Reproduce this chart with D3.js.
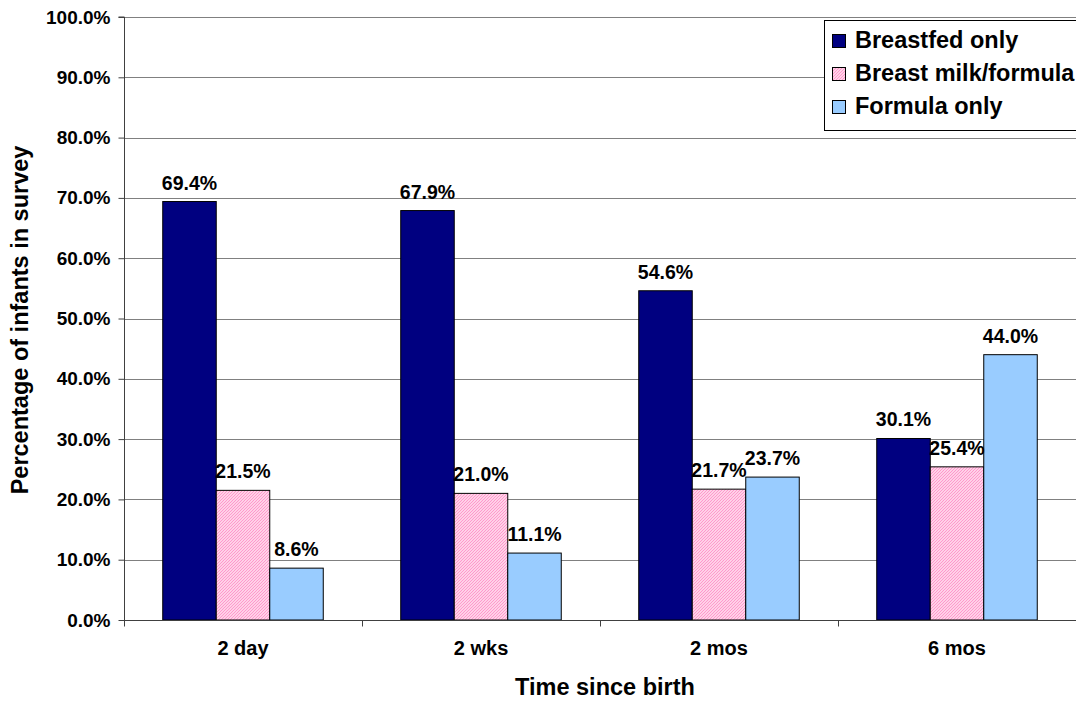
<!DOCTYPE html>
<html>
<head>
<meta charset="utf-8">
<script src="https://cdn.jsdelivr.net/npm/d3@7"></script>
<style>
  html, body { margin: 0; padding: 0; background: #fff; }
  svg { display: block; font-family: "Liberation Sans", Arial, sans-serif; font-weight: bold; }
</style>
</head>
<body>
<svg id="chart" width="1076" height="702"></svg>
<script>
// Infant feeding status by time since birth
const categories = ["2 day", "2 wks", "2 mos", "6 mos"];
const seriesNames = ["Breastfed only", "Breast milk/formula", "Formula only"];
const breastfedOnly = [69.4, 67.9, 54.6, 30.1];
const mixedFeeding = [21.5, 21.0, 21.7, 25.4];
const formulaOnly = [8.6, 11.1, 23.7, 44.0];
const yTicks = [0, 10, 20, 30, 40, 50, 60, 70, 80, 90, 100];

const seriesValues = [breastfedOnly, mixedFeeding, formulaOnly];
const fills = ["#000080", "url(#hatch)", "#99CCFF"];

const svg = d3.select("#chart");
const margin = { left: 124, right: 0, top: 17, bottom: 82 };
const W = 1076, H = 702;

// fine hatched fill for the mixed-feeding series
const defs = svg.append("defs");
const pat = defs.append("pattern")
  .attr("id", "hatch").attr("patternUnits", "userSpaceOnUse")
  .attr("width", 3).attr("height", 3);
pat.append("rect").attr("width", 3).attr("height", 3).attr("fill", "#fff");
pat.append("path").attr("d", "M-1,1 l2,-2 M0,3 l3,-3 M2,4 l2,-2")
  .attr("stroke", "#FF99CC").attr("stroke-width", 1.3);

const x0 = d3.scaleBand().domain(categories)
  .range([margin.left, W - margin.right]).paddingInner(0).paddingOuter(0);
const x1 = d3.scaleBand().domain(seriesNames)
  .range([0, x0.bandwidth()]).paddingInner(0).paddingOuter(0.724);
const y = d3.scaleLinear().domain([0, 100]).range([H - margin.bottom, margin.top]);

// gridlines
svg.append("g").selectAll("line").data(yTicks.filter(d => d > 0)).join("line")
  .attr("x1", margin.left).attr("x2", W)
  .attr("y1", d => Math.round(y(d)) + 0.5).attr("y2", d => Math.round(y(d)) + 0.5)
  .attr("stroke", "#808080").attr("stroke-width", 1);

// bars
const groups = svg.append("g").selectAll("g").data(categories).join("g")
  .attr("transform", c => `translate(${x0(c)},0)`);
groups.selectAll("rect").data((c, i) => seriesNames.map((s, j) => ({ s, j, v: seriesValues[j][i] })))
  .join("rect")
  .attr("x", d => x1(d.s)).attr("width", x1.bandwidth())
  .attr("y", d => y(d.v)).attr("height", d => y(0) - y(d.v))
  .attr("fill", d => fills[d.j]).attr("stroke", "#000").attr("stroke-width", 1);

// value labels
groups.selectAll("text").data((c, i) => seriesNames.map((s, j) => ({ s, j, v: seriesValues[j][i] })))
  .join("text")
  .attr("x", d => x1(d.s) + x1.bandwidth() / 2)
  .attr("y", d => y(d.v) - 12)
  .attr("text-anchor", "middle").attr("font-size", 19.5).attr("fill", "#000")
  .text(d => d.v.toFixed(1) + "%");

// y axis
const yAxis = d3.axisLeft(y).tickValues(yTicks).tickSize(6).tickPadding(8)
  .tickFormat(d => d.toFixed(1) + "%");
const gy = svg.append("g").attr("transform", `translate(${margin.left + 0.5},0)`).call(yAxis);
gy.select(".domain").attr("stroke", "#404040").attr("d", `M-6,${y(100)}H0V${y(0) + 6}`);
gy.selectAll(".tick line").attr("stroke", "#404040");
gy.selectAll("text").attr("font-size", 19).attr("font-family", null).attr("fill", "#000");

// x axis
const xAxis = d3.axisBottom(x0).tickSize(0).tickPadding(20);
const gx = svg.append("g").attr("transform", `translate(0,${Math.round(y(0)) + 0.5})`).call(xAxis);
gx.select(".domain").attr("stroke", "#404040").attr("d", `M${margin.left},0H${W}`);
gx.selectAll("text").attr("font-size", 20).attr("font-family", null).attr("fill", "#000");
gx.append("g").selectAll("line").data([...categories.map(c => x0(c)), W]).join("line")
  .attr("x1", d => Math.round(d) + 0.5).attr("x2", d => Math.round(d) + 0.5)
  .attr("y1", 0).attr("y2", 6).attr("stroke", "#404040");

// axis titles
svg.append("text").attr("x", 605).attr("y", 695).attr("text-anchor", "middle")
  .attr("font-size", 23.5).text("Time since birth");
svg.append("text").attr("transform", "translate(28,320) rotate(-90)")
  .attr("text-anchor", "middle").attr("font-size", 23.5).text("Percentage of infants in survey");

// legend
const lg = svg.append("g").attr("transform", "translate(824,20)");
lg.append("rect").attr("x", 0.5).attr("y", 0.5).attr("width", 270).attr("height", 110)
  .attr("fill", "#fff").attr("stroke", "#000");
seriesNames.forEach((s, j) => {
  const base = 28 + j * 33;
  lg.append("rect").attr("x", 8.5).attr("y", base - 13.5).attr("width", 13).attr("height", 13)
    .attr("fill", fills[j]).attr("stroke", "#000");
  lg.append("text").attr("x", 31).attr("y", base).attr("font-size", 23.5).text(s);
});
</script>
</body>
</html>
